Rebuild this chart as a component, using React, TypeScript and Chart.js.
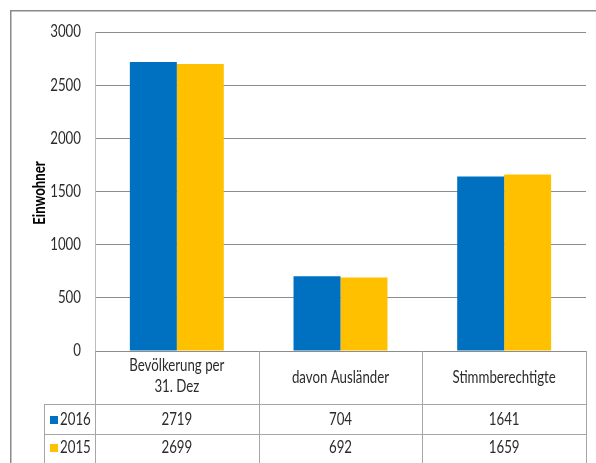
import React, { useEffect, useRef } from "react";
import { Chart, registerables } from "chart.js";

Chart.register(...registerables);

const categories: string[][] = [["Bevölkerung per", "31. Dez"], ["davon Ausländer"], ["Stimmberechtigte"]];
const seriesNames = ["2016", "2015"];
const values2016 = [2719, 704, 1641];
const values2015 = [2699, 692, 1659];
const seriesColors = ["#0070C0", "#FFC000"];
const yTicks = { min: 0, max: 3000, step: 500 };
const yTitle = "Einwohner";

const FONT = "Lato, 'Open Sans', sans-serif";
const SX = 0.78;
const TEXT_COLOR = "#2b2b2b";

function drawText(ctx: CanvasRenderingContext2D, text: string, x: number, y: number, align: CanvasTextAlign, font: string) {
  ctx.save();
  ctx.translate(x, y);
  ctx.scale(SX, 1);
  ctx.font = font;
  ctx.textAlign = align;
  ctx.textBaseline = "middle";
  ctx.fillText(text, 0, 0);
  ctx.restore();
}

const tablePlugin = {
  id: "tablePlugin",
  beforeDraw(chart: any) {
    const ctx = chart.ctx;
    ctx.save();
    ctx.fillStyle = "#ffffff";
    ctx.fillRect(0, 0, chart.width, chart.height);
    ctx.strokeStyle = "#8a8a8a";
    ctx.lineWidth = 1.5;
    ctx.strokeRect(10.75, 10.75, 800, 800);
    ctx.restore();
  },
  afterDraw(chart: any) {
    const ctx = chart.ctx;
    const x = chart.scales.x;
    const y = chart.scales.y;
    const area = chart.chartArea;
    const n = categories.length;
    const catW = (area.right - area.left) / n;
    const row1 = 404;
    const row2 = 434;
    const bottom = chart.height;
    const legendLeft = 44;
    const font = `17px ${FONT}`;
    ctx.save();
    ctx.strokeStyle = "#a6a6a6";
    ctx.lineWidth = 1;
    for (let i = 0; i <= n; i++) {
      const px = Math.round(area.left + i * catW) + 0.5;
      ctx.beginPath();
      ctx.moveTo(px, area.bottom);
      ctx.lineTo(px, bottom);
      ctx.stroke();
    }
    ctx.beginPath();
    ctx.moveTo(legendLeft + 0.5, row1);
    ctx.lineTo(legendLeft + 0.5, bottom);
    ctx.stroke();
    [row1, row2].forEach((ry) => {
      ctx.beginPath();
      ctx.moveTo(legendLeft, ry + 0.5);
      ctx.lineTo(area.right, ry + 0.5);
      ctx.stroke();
    });
    ctx.fillStyle = TEXT_COLOR;
    for (let v = yTicks.min; v <= yTicks.max; v += yTicks.step) {
      drawText(ctx, String(v), 81, y.getPixelForValue(v), "right", font);
    }
    categories.forEach((lines, i) => {
      const cx = x.getPixelForValue(i);
      const lh = 21;
      const cy = lines.length > 1 ? 376 : 378;
      lines.forEach((ln, j) => {
        drawText(ctx, ln, cx, cy + (j - (lines.length - 1) / 2) * lh, "center", font);
      });
    });
    const rows = [values2016, values2015];
    const rowCenters = [(row1 + row2) / 2 + 1, 448];
    rows.forEach((vals, r) => {
      vals.forEach((v, i) => {
        drawText(ctx, String(v), x.getPixelForValue(i), rowCenters[r], "center", font);
      });
      ctx.fillStyle = seriesColors[r];
      ctx.fillRect(50, rowCenters[r] - 4, 8, 8);
      ctx.fillStyle = TEXT_COLOR;
      drawText(ctx, seriesNames[r], 60, rowCenters[r], "left", font);
    });
    ctx.save();
    ctx.translate(40, 193);
    ctx.rotate(-Math.PI / 2);
    ctx.fillStyle = "#000000";
    drawText(ctx, yTitle, 0, 0, "center", `bold 17px ${FONT}`);
    ctx.restore();
    ctx.restore();
  },
};

export default function App() {
  const ref = useRef<HTMLCanvasElement | null>(null);
  useEffect(() => {
    if (!ref.current) return;
    const chart = new Chart(ref.current, {
      type: "bar",
      data: {
        labels: categories.map((c) => c.join(" ")),
        datasets: [
          { label: seriesNames[0], data: values2016, backgroundColor: seriesColors[0] },
          { label: seriesNames[1], data: values2015, backgroundColor: seriesColors[1] },
        ],
      },
      options: {
        responsive: false,
        animation: false,
        devicePixelRatio: 1,
        layout: { padding: { top: 32, bottom: 112, right: 10, left: 0 } },
        datasets: { bar: { categoryPercentage: 0.574, barPercentage: 1 } },
        plugins: { legend: { display: false }, tooltip: { enabled: false } },
        scales: {
          x: { display: false },
          y: {
            min: yTicks.min,
            max: yTicks.max,
            ticks: { stepSize: yTicks.step, display: false },
            grid: { color: "#8c8c8c", drawTicks: false },
            border: { display: true, color: "#bdbdbd" },
            afterFit: (s: any) => {
              s.width = 95;
            },
          },
        },
      },
      plugins: [tablePlugin],
    });
    return () => chart.destroy();
  }, []);
  return (
    <div style={{ position: "absolute", left: 0, top: 0, width: 596, height: 463 }}>
      <canvas ref={ref} width={596} height={463} style={{ display: "block" }} />
    </div>
  );
}
